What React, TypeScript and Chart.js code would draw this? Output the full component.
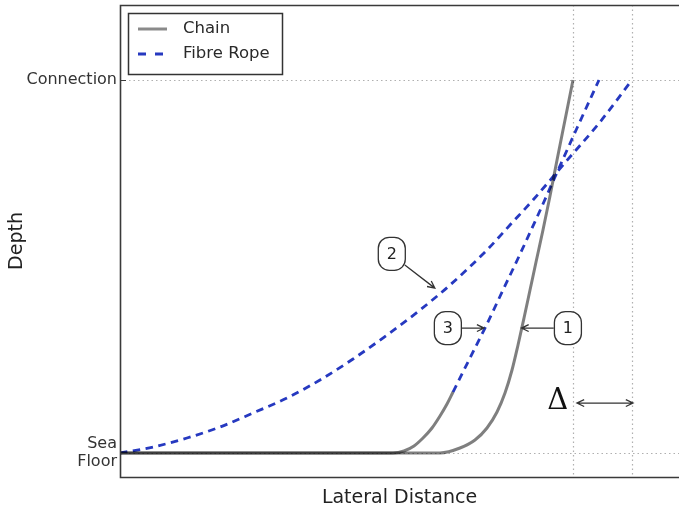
import React, { useEffect, useRef } from 'react';
import { Chart, registerables } from 'chart.js';

Chart.register(...registerables);

// ---- data (lateral distance, depth above sea floor) ----
const chain1X = [0, 56.51, 60.04, 62.69, 64.81, 66.58, 67.99, 69.23, 70.29, 71.35, 72.41, 73.47, 74.7, 75.94, 77.18, 78.59, 80.0];
const chain1Y = [0, 0, 1.34, 3.48, 6.7, 10.99, 16.08, 22.25, 28.95, 36.19, 43.69, 51.2, 59.78, 68.89, 78.54, 89.27, 100];

const chain3X = [0, 48.21, 50.15, 51.92, 53.51, 55.1, 56.51, 57.75, 58.81];
const chain3Y = [0, 0, 0.54, 1.88, 4.02, 6.7, 9.92, 13.14, 16.35];

const rope3X = [58.81, 61.63, 64.46, 67.64, 70.82, 73.82, 76.82, 80.71, 84.59];
const rope3Y = [16.35, 24.93, 33.51, 43.69, 53.88, 63.8, 73.99, 87.12, 100];

const rope2X = [0, 5.83, 11.83, 17.66, 23.49, 29.49, 35.32, 41.15, 47.15, 52.98, 58.28, 64.81, 68.87, 72.94, 78.23, 84.77, 90.42];
const rope2Y = [0, 1.61, 4.02, 6.97, 10.72, 14.74, 19.57, 25.2, 31.63, 38.33, 45.03, 54.42, 61.12, 67.82, 77.2, 88.73, 100];

const yTickValues = [0, 100];
const yTickLabels: (string | string[])[] = [['Sea', 'Floor'], 'Connection'];
const xGridValues = [80, 90.42];

const annBoxes = [
  { text: '2', x: 48.0, y: 53.4 },
  { text: '3', x: 57.9, y: 33.5 },
  { text: '1', x: 79.1, y: 33.5 },
];
const annArrows = [
  { x1: 50.3, y1: 50.4, x2: 55.6, y2: 44.2, both: false },
  { x1: 60.4, y1: 33.5, x2: 64.3, y2: 33.5, both: false },
  { x1: 76.6, y1: 33.5, x2: 70.9, y2: 33.5, both: false },
  { x1: 80.7, y1: 13.4, x2: 90.6, y2: 13.4, both: true },
];
const deltaLabel = { text: 'Δ', x: 77.3, y: 13.7 };

const FONT = '"DejaVu Sans", sans-serif';
const CHAIN_COLOR = 'rgba(0,0,0,0.5)';
const ROPE_COLOR = '#2639c0';

const pts = (xs: number[], ys: number[]) => xs.map((x, i) => ({ x, y: ys[i] }));

const gridPlugin = {
  id: 'dottedGrid',
  beforeDatasetsDraw(chart: any) {
    const { ctx, chartArea: a, scales } = chart;
    ctx.save();
    ctx.strokeStyle = '#b0b0b0';
    ctx.lineWidth = 1.2;
    ctx.setLineDash([1.5, 3]);
    ctx.beginPath();
    yTickValues.forEach((v) => {
      const y = Math.round(scales.y.getPixelForValue(v)) + 0.5;
      ctx.moveTo(a.left, y);
      ctx.lineTo(a.right, y);
    });
    xGridValues.forEach((v) => {
      const x = Math.round(scales.x.getPixelForValue(v)) + 0.5;
      ctx.moveTo(x, a.top);
      ctx.lineTo(x, a.bottom);
    });
    ctx.stroke();
    ctx.restore();
  },
};

function arrowHead(ctx: CanvasRenderingContext2D, fx: number, fy: number, tx: number, ty: number) {
  const ang = Math.atan2(ty - fy, tx - fx);
  const len = 8;
  const spread = 0.45;
  ctx.moveTo(tx - len * Math.cos(ang - spread), ty - len * Math.sin(ang - spread));
  ctx.lineTo(tx, ty);
  ctx.lineTo(tx - len * Math.cos(ang + spread), ty - len * Math.sin(ang + spread));
}

const annotationPlugin = {
  id: 'annotations',
  afterDatasetsDraw(chart: any) {
    const { ctx, scales } = chart;
    const px = (v: number) => scales.x.getPixelForValue(v);
    const py = (v: number) => scales.y.getPixelForValue(v);
    ctx.save();
    ctx.setLineDash([]);
    ctx.strokeStyle = '#333';
    ctx.lineWidth = 1.3;
    annArrows.forEach((a) => {
      const x1 = px(a.x1), y1 = py(a.y1), x2 = px(a.x2), y2 = py(a.y2);
      ctx.beginPath();
      ctx.moveTo(x1, y1);
      ctx.lineTo(x2, y2);
      arrowHead(ctx, x1, y1, x2, y2);
      if (a.both) arrowHead(ctx, x2, y2, x1, y1);
      ctx.stroke();
    });
    const w = 27, h = 33, r = 11;
    annBoxes.forEach((b) => {
      const cx = px(b.x), cy = py(b.y);
      ctx.beginPath();
      ctx.roundRect(cx - w / 2, cy - h / 2, w, h, r);
      ctx.fillStyle = '#fff';
      ctx.fill();
      ctx.strokeStyle = '#333';
      ctx.lineWidth = 1.3;
      ctx.stroke();
      ctx.fillStyle = '#222';
      ctx.font = `16px ${FONT}`;
      ctx.textAlign = 'center';
      ctx.textBaseline = 'middle';
      ctx.fillText(b.text, cx, cy + 1);
    });
    ctx.fillStyle = '#111';
    ctx.font = `29px "DejaVu Serif", serif`;
    ctx.textAlign = 'center';
    ctx.textBaseline = 'middle';
    ctx.fillText(deltaLabel.text, px(deltaLabel.x), py(deltaLabel.y));
    ctx.restore();
  },
};

const framePlugin = {
  id: 'frameAndLegend',
  afterDraw(chart: any) {
    const { ctx, chartArea: a, scales } = chart;
    ctx.save();
    ctx.setLineDash([]);
    ctx.strokeStyle = '#3a3a3a';
    ctx.lineWidth = 1.6;
    ctx.beginPath();
    ctx.moveTo(a.right + 2, a.top + 0.5);
    ctx.lineTo(a.left + 0.5, a.top + 0.5);
    ctx.lineTo(a.left + 0.5, a.bottom + 0.5);
    ctx.lineTo(a.right + 2, a.bottom + 0.5);
    ctx.stroke();
    ctx.lineWidth = 1;
    ctx.beginPath();
    yTickValues.forEach((v) => {
      const y = Math.round(scales.y.getPixelForValue(v)) + 0.5;
      ctx.moveTo(a.left, y);
      ctx.lineTo(a.left + 6, y);
    });
    ctx.stroke();

    // legend
    const lx = a.left + 8, ly = a.top + 8, lw = 154, lh = 61;
    ctx.fillStyle = '#fff';
    ctx.fillRect(lx, ly, lw, lh);
    ctx.strokeStyle = '#333';
    ctx.lineWidth = 1.5;
    ctx.strokeRect(lx + 0.5, ly + 0.5, lw, lh);
    const ds = chart.data.datasets;
    const items = [
      { label: ds[0].label, color: '#8a8a8a', dash: [] as number[], width: 3 },
      { label: ds[2].label, color: ROPE_COLOR, dash: [8, 9], width: 3 },
    ];
    items.forEach((it, i) => {
      const y = ly + 16 + i * 25;
      ctx.beginPath();
      ctx.strokeStyle = it.color;
      ctx.lineWidth = it.width;
      ctx.setLineDash(it.dash);
      ctx.moveTo(lx + 10, y);
      ctx.lineTo(lx + 39, y);
      ctx.stroke();
      ctx.setLineDash([]);
      ctx.fillStyle = '#2a2a2a';
      ctx.font = `16.5px ${FONT}`;
      ctx.textAlign = 'left';
      ctx.textBaseline = 'middle';
      ctx.fillText(it.label, lx + 55, y);
    });
    ctx.restore();
  },
};

export default function App() {
  const ref = useRef<HTMLCanvasElement>(null);
  useEffect(() => {
    if (!ref.current) return;
    const common = { showLine: true, pointRadius: 0, pointHoverRadius: 0, fill: false, cubicInterpolationMode: 'monotone' as const };
    const chart = new Chart(ref.current, {
      type: 'scatter',
      data: {
        datasets: [
          { ...common, label: 'Chain', data: pts(chain1X, chain1Y), borderColor: CHAIN_COLOR, backgroundColor: CHAIN_COLOR, borderWidth: 3 },
          { ...common, label: 'Chain (3)', data: pts(chain3X, chain3Y), borderColor: CHAIN_COLOR, backgroundColor: CHAIN_COLOR, borderWidth: 3 },
          { ...common, label: 'Fibre Rope', data: pts(rope2X, rope2Y), borderColor: ROPE_COLOR, backgroundColor: ROPE_COLOR, borderWidth: 2.8, borderDash: [7.5, 5.5] },
          { ...common, label: 'Fibre Rope (3)', data: pts(rope3X, rope3Y), borderColor: ROPE_COLOR, backgroundColor: ROPE_COLOR, borderWidth: 2.8, borderDash: [7.5, 5.5] },
        ],
      },
      options: {
        animation: false,
        responsive: false,
        layout: { padding: { top: 5, right: 0, left: 0, bottom: 0 } },
        plugins: { legend: { display: false }, tooltip: { enabled: false } },
        scales: {
          x: {
            type: 'linear',
            min: 0,
            max: 98.72,
            afterBuildTicks: (s: any) => { s.ticks = xGridValues.map((v) => ({ value: v })); },
            afterFit: (s: any) => { s.height = 31; s.paddingLeft = 0; s.paddingRight = 0; },
            ticks: { display: false },
            grid: { display: false, drawTicks: false },
            border: { display: false },
            title: { display: true, text: 'Lateral Distance', color: '#222', font: { family: FONT, size: 19, lineHeight: 1 }, padding: { top: 0, bottom: 0 } },
          },
          y: {
            type: 'linear',
            min: -6.43,
            max: 120.1,
            afterBuildTicks: (s: any) => { s.ticks = yTickValues.map((v) => ({ value: v })); },
            afterFit: (s: any) => { s.width = 120; s.paddingTop = 0; s.paddingBottom = 0; },
            ticks: {
              color: '#333',
              padding: 3,
              font: { family: FONT, size: 16, lineHeight: 1.15 },
              callback: (_v: any, i: number) => yTickLabels[i],
            },
            grid: { display: false, drawTicks: false },
            border: { display: false },
            title: { display: true, text: 'Depth', color: '#222', font: { family: FONT, size: 19 }, padding: { top: 6, bottom: 0 } },
          },
        },
      },
      plugins: [gridPlugin, annotationPlugin, framePlugin],
    });
    return () => chart.destroy();
  }, []);
  return (
    <div style={{ position: 'absolute', left: 0, top: 0, width: 679, height: 508, background: '#fff' }}>
      <canvas ref={ref} width={679} height={508} style={{ display: 'block' }} />
    </div>
  );
}
